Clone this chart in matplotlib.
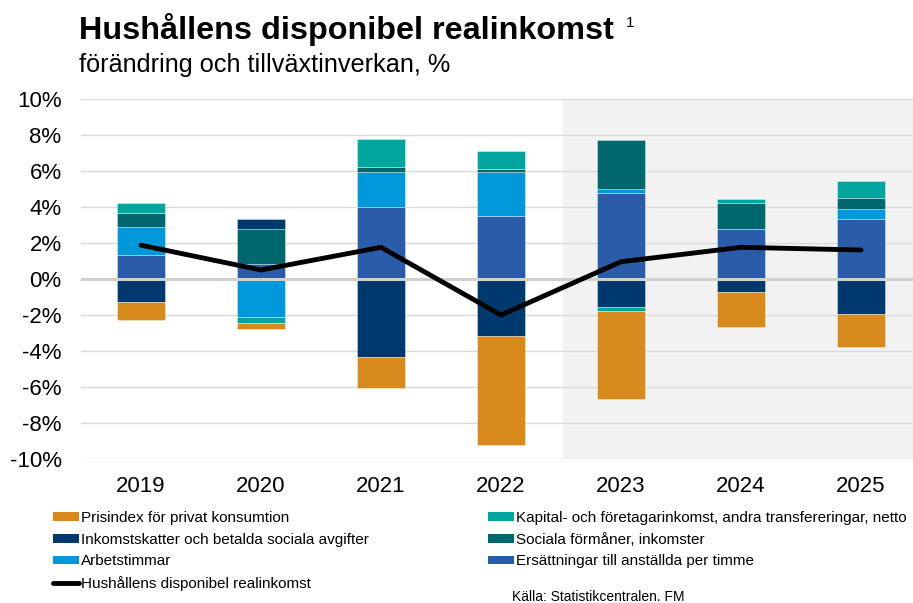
import matplotlib
matplotlib.use("Agg")
import matplotlib.pyplot as plt
import numpy as np
from matplotlib.patches import Patch
from matplotlib.lines import Line2D

plt.rcParams['font.family'] = ['Liberation Sans', 'DejaVu Sans']

years = ["2019", "2020", "2021", "2022", "2023", "2024", "2025"]

ersattningar = [1.33, 0.82, 3.98, 3.48, 4.80, 2.76, 3.35]
arbetstimmar = [1.54, -2.09, 1.98, 2.45, 0.18, 0.00, 0.54]
sociala = [0.81, 1.96, 0.25, 0.16, 2.74, 1.44, 0.63]
inkomstskatter = [-1.30, 0.54, -4.32, -3.15, -1.57, -0.70, -1.94]
kapital = [0.52, -0.37, 1.55, 1.02, -0.21, 0.26, 0.91]
prisindex = [-0.98, -0.34, -1.75, -6.07, -4.89, -1.95, -1.82]
realinkomst = [1.88, 0.50, 1.76, -2.00, 0.96, 1.76, 1.61]

labels = {
    "ers": "Ersättningar till anställda per timme",
    "arb": "Arbetstimmar",
    "soc": "Sociala förmåner, inkomster",
    "ink": "Inkomstskatter och betalda sociala avgifter",
    "kap": "Kapital- och företagarinkomst, andra transfereringar, netto",
    "pris": "Prisindex för privat konsumtion",
    "line": "Hushållens disponibel realinkomst",
}
colors = {
    "ers": "#2B5CAA",
    "arb": "#0098DA",
    "soc": "#00676E",
    "ink": "#00396E",
    "kap": "#00A59D",
    "pris": "#D88A1C",
}

series = [("ers", ersattningar), ("arb", arbetstimmar), ("soc", sociala),
          ("ink", inkomstskatter), ("kap", kapital), ("pris", prisindex)]

fig = plt.figure(figsize=(9.13, 6.03), dpi=100)
ax = fig.add_axes([81/913, 1 - 459/603, 1 - 81/913, (459 - 99)/603])

x = np.arange(len(years))
ax.set_xlim(-0.5, 6.5 - 8/120)
ax.set_ylim(-10, 10)

# shaded forecast area
ax.axvspan(3.517, 7, color="#F2F2F2", zorder=0, lw=0)

ax.set_yticks(np.arange(-10, 11, 2))
ax.set_yticklabels([f"{v}%" for v in range(-10, 11, 2)])
ax.yaxis.grid(True, color="#D9D9D9", lw=1.0, zorder=1)
ax.set_axisbelow(True)

pos_b = np.zeros(len(years))
neg_b = np.zeros(len(years))
for key, vals in series:
    v = np.array(vals, dtype=float)
    bottom = np.where(v >= 0, pos_b, neg_b)
    ax.bar(x, v, width=0.4, bottom=bottom, color=colors[key], zorder=2,
           edgecolor=(1, 1, 1, 0.5), linewidth=0.5)
    pos_b = pos_b + np.where(v >= 0, v, 0)
    neg_b = neg_b + np.where(v < 0, v, 0)

ax.axhline(0, color="#D0D0D0", lw=2.2, zorder=3)
ax.plot(x, realinkomst, color="black", lw=3.5, zorder=4, solid_capstyle="round",
        solid_joinstyle="miter")

ax.set_xticks(x)
ax.set_xticklabels(years)
for s in ax.spines.values():
    s.set_visible(False)
ax.tick_params(axis="both", length=0, labelsize=16, colors="black")
ax.tick_params(axis="y", pad=14)
ax.tick_params(axis="x", pad=12)

# titles
fig.text(79/913, 1 - 39/603, "Hushållens disponibel realinkomst", fontsize=23.3,
         fontweight="bold", ha="left", va="baseline")
fig.text(626/913, 1 - 27/603, "1", fontsize=11, ha="left", va="baseline")
fig.text(79/913, 1 - 72/603, "förändring och tillväxtinverkan, %", fontsize=18.2,
         ha="left", va="baseline")

# legends
def ph(key):
    return Patch(facecolor=colors[key], edgecolor="none", label=labels[key])

h1 = [ph("pris"), ph("ink"), ph("arb"),
      Line2D([0], [0], color="black", lw=3.5, solid_capstyle="round", label=labels["line"])]
h2 = [ph("kap"), ph("soc"), ph("ers")]

common = dict(frameon=False, fontsize=11, handlelength=1.7, handleheight=0.5,
              handletextpad=0.15, labelspacing=0.5, borderaxespad=0, borderpad=0)
fig.legend(handles=h1, loc="upper left", bbox_to_anchor=(53/913, 1 - 511/603), **common)
fig.legend(handles=h2, loc="upper left", bbox_to_anchor=(488/913, 1 - 511/603), **common)

fig.text(512/913, 1 - 601/603, "Källa: Statistikcentralen. FM", fontsize=10,
         ha="left", va="baseline")

fig.savefig("out.png", dpi=100)
